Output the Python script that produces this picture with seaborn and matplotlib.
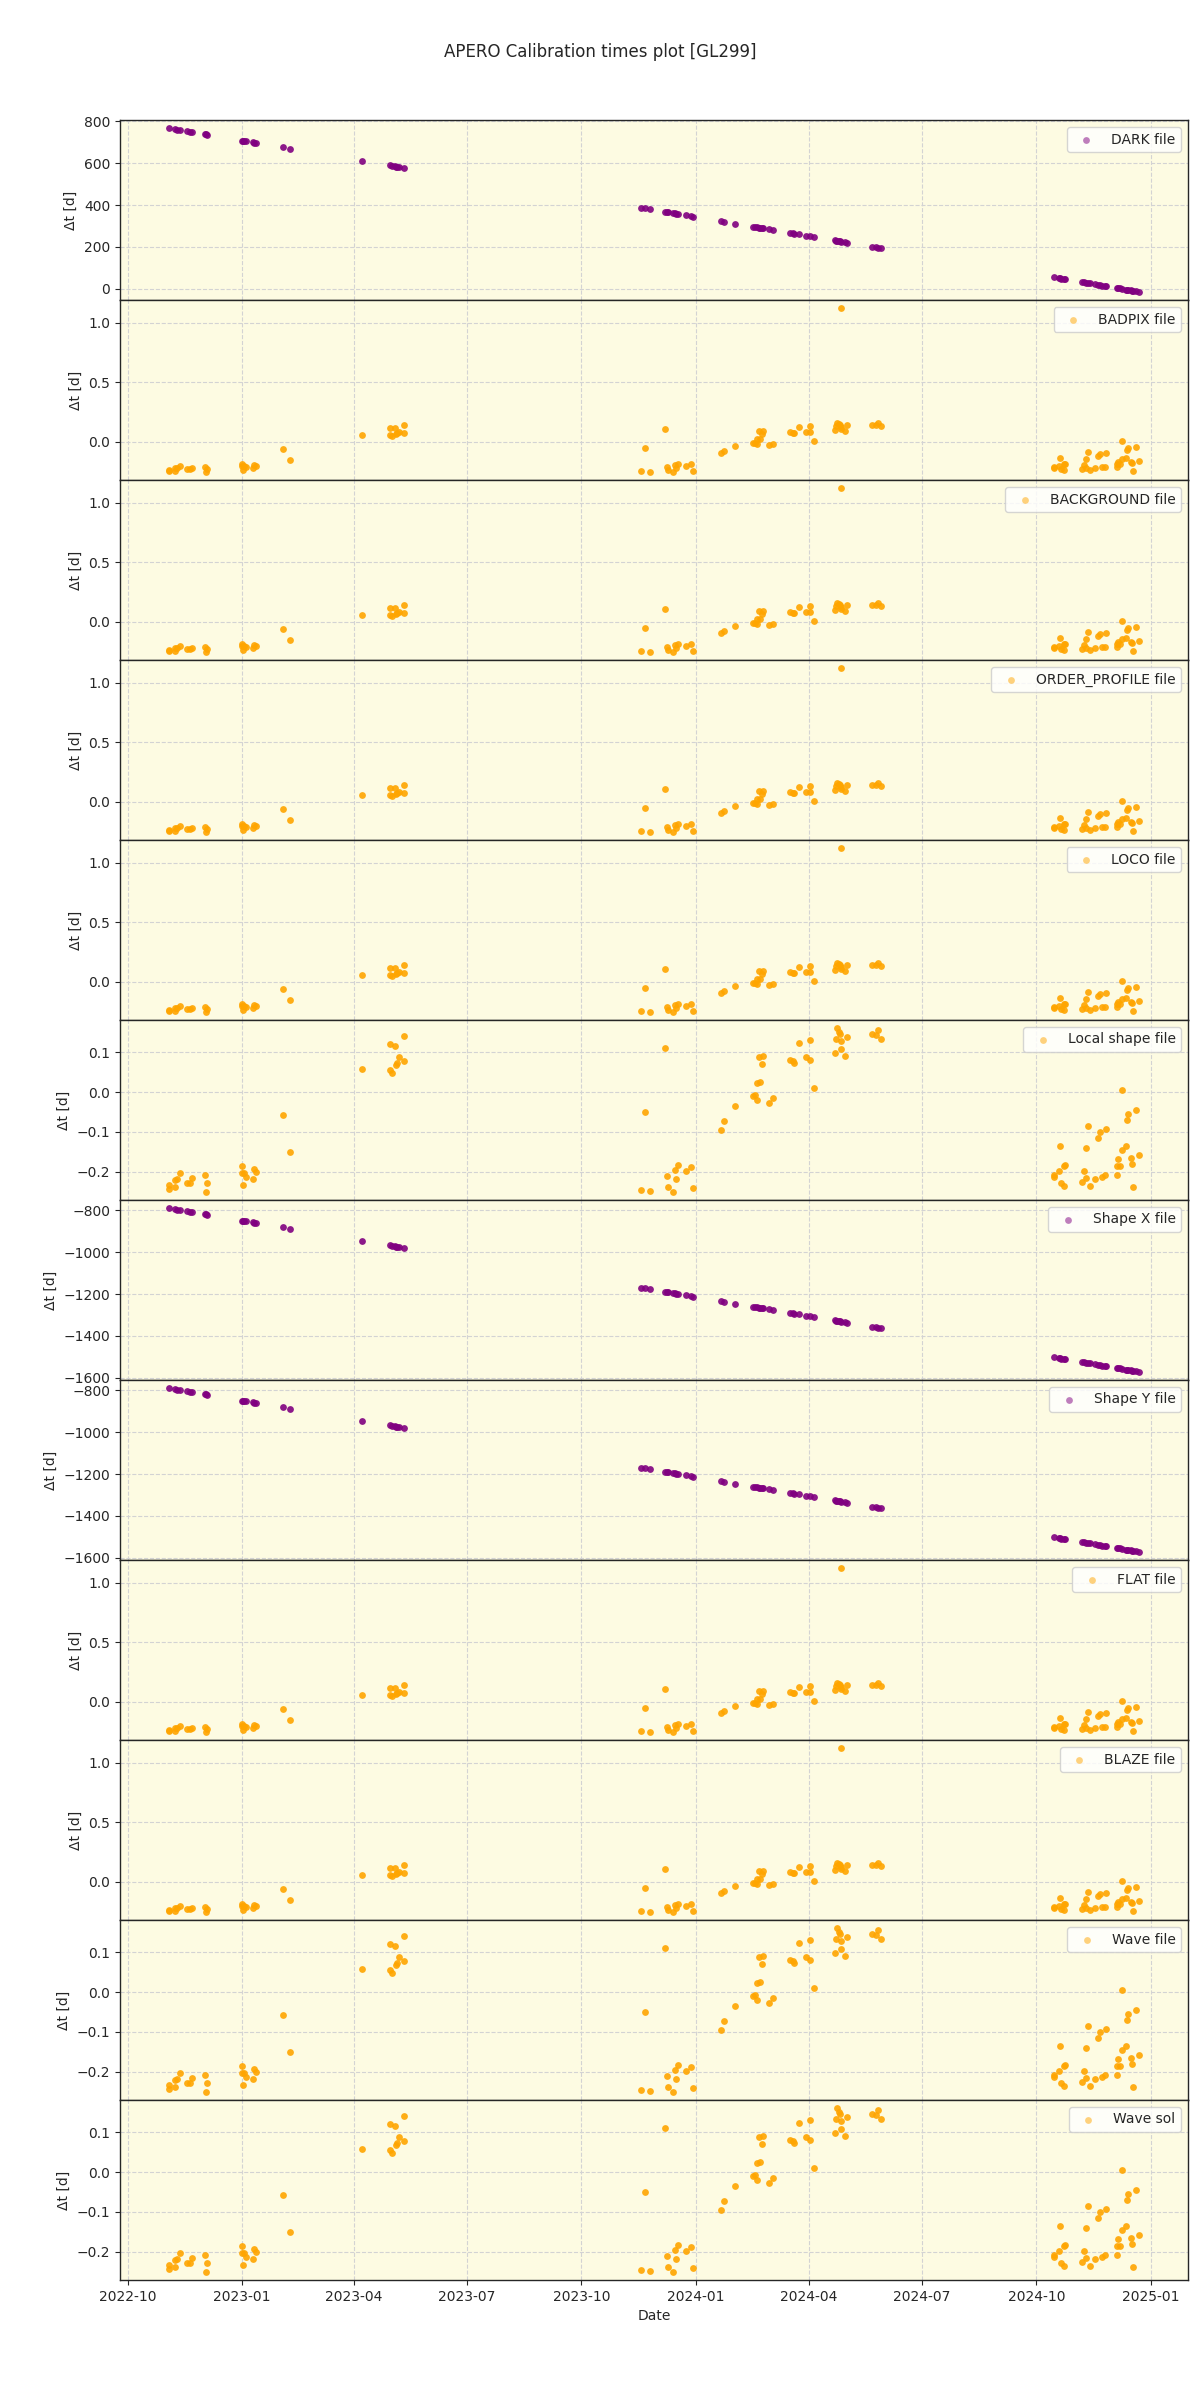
import matplotlib
matplotlib.use("Agg")
import matplotlib.pyplot as plt
import matplotlib.dates as mdates
import seaborn as sns
import pandas as pd

# calibration nights (one DARK / shape entry per night)
cal_nights = [
    "2022-11-03", "2022-11-08", "2022-11-10", "2022-11-12", "2022-11-18", "2022-11-20", "2022-11-22",
    "2022-12-02", "2022-12-03", "2022-12-04",
    "2023-01-01", "2023-01-02", "2023-01-03", "2023-01-04", "2023-01-10", "2023-01-11", "2023-01-12",
    "2023-02-03", "2023-02-09", "2023-04-08", "2023-04-30", "2023-05-02", "2023-05-04", "2023-05-05",
    "2023-05-06", "2023-05-07", "2023-05-11",
    "2023-11-18", "2023-11-21", "2023-11-25", "2023-12-07", "2023-12-09", "2023-12-10", "2023-12-14",
    "2023-12-15", "2023-12-16", "2023-12-18", "2023-12-24", "2023-12-28", "2023-12-30",
    "2024-01-21", "2024-01-24", "2024-02-02", "2024-02-16", "2024-02-18", "2024-02-19", "2024-02-21",
    "2024-02-22", "2024-02-23", "2024-02-24", "2024-02-29", "2024-03-03", "2024-03-17", "2024-03-19",
    "2024-03-20", "2024-03-24", "2024-03-30", "2024-04-02", "2024-04-05", "2024-04-22", "2024-04-23",
    "2024-04-24", "2024-04-25", "2024-04-26", "2024-04-27", "2024-04-30", "2024-05-02", "2024-05-22",
    "2024-05-25", "2024-05-27", "2024-05-29",
    "2024-10-15", "2024-10-19", "2024-10-20", "2024-10-21", "2024-10-23", "2024-10-24", "2024-11-07",
    "2024-11-08", "2024-11-10", "2024-11-12", "2024-11-13", "2024-11-17", "2024-11-20", "2024-11-21",
    "2024-11-23", "2024-11-25", "2024-11-26", "2024-12-05", "2024-12-06", "2024-12-07", "2024-12-09",
    "2024-12-12", "2024-12-13", "2024-12-14", "2024-12-16", "2024-12-17", "2024-12-18", "2024-12-20",
    "2024-12-23",
]

dark_dt = [
    767, 762, 760, 758, 752, 750, 748, 738, 737, 736,
    708, 707, 706, 705, 699, 698, 697, 675, 669, 611, 589, 587, 585, 584, 583, 582, 578,
    387, 384, 380, 368, 366, 365, 361, 360, 359, 357, 351, 347, 345,
    323, 320, 311, 297, 295, 294, 292, 291, 290, 289, 284, 281, 267, 265, 264, 260, 254, 251, 248,
    231, 230, 229, 228, 227, 226, 223, 221, 201, 198, 196, 194,
    55, 51, 50, 49, 47, 46, 32, 31, 29, 27, 26, 22, 19, 18, 16, 14, 13, 4, 3, 2, 0, -3, -4, -5,
    -7, -8, -9, -11, -14,
]

shape_x_dt = [
    -790, -795, -797, -799, -805, -807, -809, -819, -820, -821,
    -849, -850, -851, -852, -858, -859, -860, -882, -888, -946, -968, -970, -972, -973, -974, -975, -979,
    -1170, -1173, -1177, -1189, -1191, -1192, -1196, -1197, -1198, -1200, -1206, -1210, -1212,
    -1234, -1237, -1246, -1260, -1262, -1263, -1265, -1266, -1267, -1268, -1273, -1276, -1290, -1292,
    -1293, -1297, -1303, -1306, -1309, -1326, -1327, -1328, -1329, -1330, -1331, -1334, -1336, -1356,
    -1359, -1361, -1363,
    -1502, -1506, -1507, -1508, -1510, -1511, -1525, -1526, -1528, -1530, -1531, -1535, -1538, -1539,
    -1541, -1543, -1544, -1553, -1554, -1555, -1557, -1560, -1561, -1562, -1564, -1565, -1566, -1568,
    -1571,
]
shape_y_dt = list(shape_x_dt)

# per-file offsets for the small-offset calibrations
small_dates = [
    "2022-11-03", "2022-11-03", "2022-11-08", "2022-11-08", "2022-11-10", "2022-11-12", "2022-11-18",
    "2022-11-20", "2022-11-22", "2022-12-02", "2022-12-03", "2022-12-04",
    "2023-01-01", "2023-01-01", "2023-01-02", "2023-01-03", "2023-01-04", "2023-01-10", "2023-01-11",
    "2023-01-12", "2023-02-03", "2023-02-09", "2023-04-08", "2023-04-30", "2023-04-30", "2023-05-02",
    "2023-05-04", "2023-05-05", "2023-05-06", "2023-05-07", "2023-05-11", "2023-05-11",
    "2023-11-18", "2023-11-21", "2023-11-25", "2023-12-07", "2023-12-09", "2023-12-10", "2023-12-14",
    "2023-12-15", "2023-12-16", "2023-12-18", "2023-12-24", "2023-12-28", "2023-12-30",
    "2024-01-21", "2024-01-24", "2024-02-02", "2024-02-16", "2024-02-18", "2024-02-19", "2024-02-19",
    "2024-02-22", "2024-02-21", "2024-02-24", "2024-02-23", "2024-02-29", "2024-03-03", "2024-03-17",
    "2024-03-19", "2024-03-20", "2024-03-24", "2024-03-30", "2024-04-02", "2024-04-02", "2024-04-05",
    "2024-04-22", "2024-04-23", "2024-04-24", "2024-04-25", "2024-04-26", "2024-04-27", "2024-04-27",
    "2024-04-30", "2024-05-02", "2024-05-22", "2024-05-25", "2024-05-27", "2024-05-29",
    "2024-10-15", "2024-10-15", "2024-10-19", "2024-10-20", "2024-10-21", "2024-10-23", "2024-10-23",
    "2024-10-24", "2024-11-07", "2024-11-08", "2024-11-10", "2024-11-10", "2024-11-12", "2024-11-13",
    "2024-11-17", "2024-11-20", "2024-11-21", "2024-11-23", "2024-11-25", "2024-11-26", "2024-12-05",
    "2024-12-05", "2024-12-06", "2024-12-07", "2024-12-09", "2024-12-09", "2024-12-12", "2024-12-13",
    "2024-12-14", "2024-12-16", "2024-12-17", "2024-12-18", "2024-12-20", "2024-12-23",
]
small_dt = [
    -0.232, -0.242, -0.220, -0.239, -0.219, -0.202, -0.229, -0.229, -0.215, -0.208, -0.250, -0.227,
    -0.186, -0.203, -0.232, -0.203, -0.212, -0.219, -0.192, -0.200, -0.058, -0.150, 0.057, 0.121,
    0.056, 0.047, 0.115, 0.068, 0.074, 0.087, 0.077, 0.141,
    -0.246, -0.049, -0.248, 0.111, -0.210, -0.238, -0.250, -0.195, -0.218, -0.184, -0.199, -0.188,
    -0.240,
    -0.095, -0.073, -0.034, -0.011, -0.007, -0.020, 0.022, 0.026, 0.089, 0.091, 0.070, -0.028, -0.014,
    0.080, 0.077, 0.073, 0.123, 0.087, 0.080, 0.130, 0.009, 0.098, 0.134, 0.160, 0.151, 0.145, 0.127,
    0.109, 0.091, 0.139, 0.145, 0.143, 0.156, 0.133,
    -0.208, -0.214, -0.199, -0.134, -0.227, -0.236, -0.185, -0.182, -0.225, -0.197, -0.141, -0.216,
    -0.084, -0.236, -0.219, -0.116, -0.101, -0.212, -0.208, -0.092, -0.186, -0.208, -0.169, -0.186,
    -0.145, 0.006, -0.135, -0.069, -0.054, -0.165, -0.180, -0.239, -0.045, -0.159,
]

# one late file shows up in the master-calib sets
outlier_date = ["2024-04-27"]
outlier_dt = [1.12]

calib_dates = small_dates + outlier_date
calib_dt = small_dt + outlier_dt

panels = [
    ("DARK file", cal_nights, dark_dt, "purple"),
    ("BADPIX file", calib_dates, calib_dt, "orange"),
    ("BACKGROUND file", calib_dates, calib_dt, "orange"),
    ("ORDER_PROFILE file", calib_dates, calib_dt, "orange"),
    ("LOCO file", calib_dates, calib_dt, "orange"),
    ("Local shape file", small_dates, small_dt, "orange"),
    ("Shape X file", cal_nights, shape_x_dt, "purple"),
    ("Shape Y file", cal_nights, shape_y_dt, "purple"),
    ("FLAT file", calib_dates, calib_dt, "orange"),
    ("BLAZE file", calib_dates, calib_dt, "orange"),
    ("Wave file", small_dates, small_dt, "orange"),
    ("Wave sol", small_dates, small_dt, "orange"),
]

sns.set_style("ticks")
plt.rcParams['font.family'] = ['DejaVu Sans']

fig, axes = plt.subplots(len(panels), 1, figsize=(12, 24), dpi=100, sharex=True)
plt.subplots_adjust(left=0.1, right=0.99, top=0.95, bottom=0.05, hspace=0)

for ax, (name, dates, dt, col) in zip(axes, panels):
    ax.set_facecolor("#fdfbe2")
    sns.scatterplot(x=pd.to_datetime(dates), y=dt, ax=ax, color=col, s=24,
                    alpha=0.9, linewidth=0, label=name, zorder=3)
    ax.grid(True, linestyle="--", color="lightgray", linewidth=0.8, zorder=0)
    ax.set_ylabel("Δt [d]")
    leg = ax.legend(loc="upper right", fontsize=10)
    for h in leg.legend_handles:
        h.set_alpha(0.5)
    for side in ax.spines.values():
        side.set_linewidth(1.0)

axes[-1].xaxis.set_major_locator(mdates.MonthLocator(bymonth=[1, 4, 7, 10]))
axes[-1].xaxis.set_major_formatter(mdates.DateFormatter("%Y-%m"))
axes[-1].set_xlabel("Date")

fig.suptitle("APERO Calibration times plot [GL299]", y=0.982, fontsize=12)
plt.savefig("out.png", dpi=100)
